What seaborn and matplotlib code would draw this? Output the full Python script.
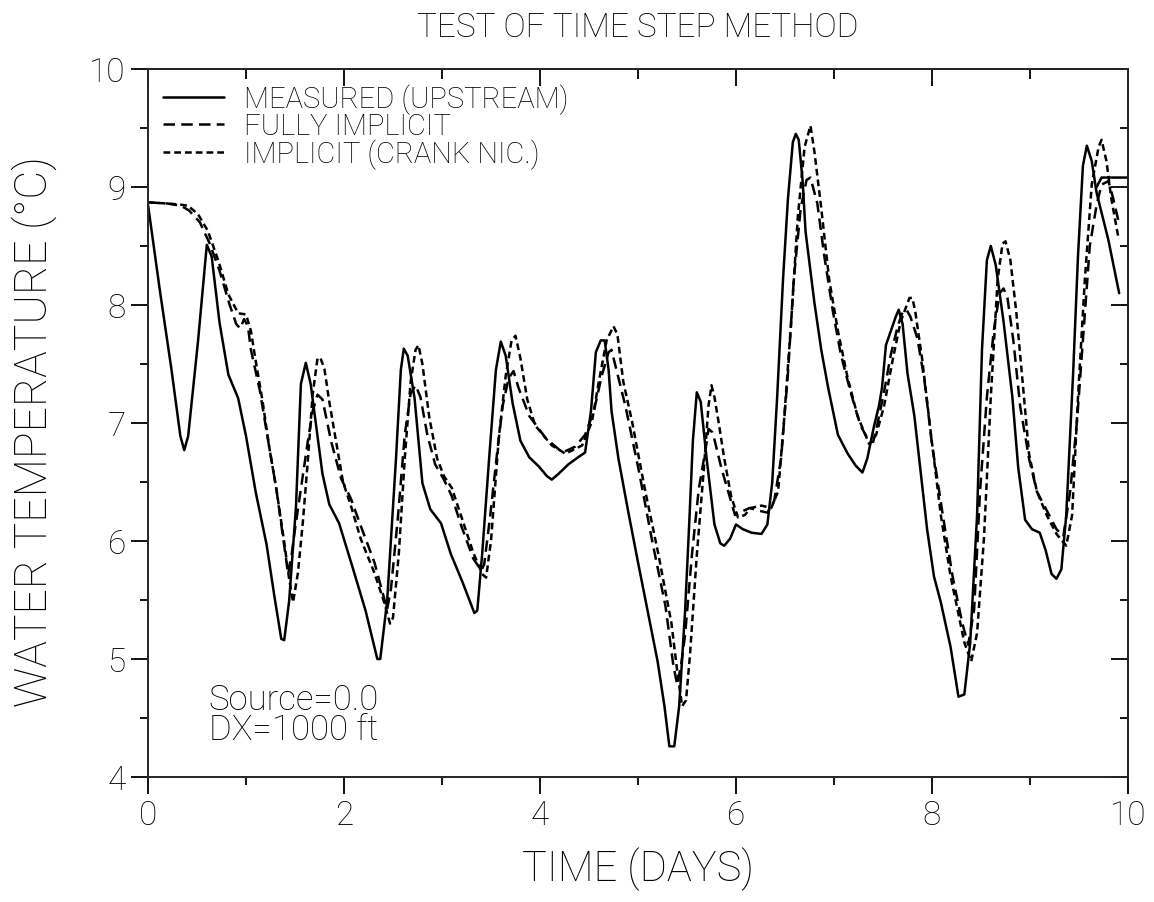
import matplotlib
matplotlib.use("Agg")
import matplotlib.pyplot as plt
import seaborn as sns
from matplotlib.ticker import MultipleLocator

# ---------------- data ----------------
meas_x = [0.00, 0.12, 0.24, 0.33, 0.37, 0.41, 0.51, 0.60, 0.65, 0.73, 0.82, 0.92,
          1.00, 1.10, 1.21, 1.29, 1.36, 1.39, 1.44, 1.51, 1.56, 1.61, 1.66, 1.73,
          1.78, 1.85, 1.95, 2.09, 2.22, 2.29, 2.34, 2.37, 2.44, 2.53, 2.58, 2.61,
          2.65, 2.72, 2.80, 2.88, 2.99, 3.09, 3.21, 3.33, 3.36, 3.41, 3.48, 3.55,
          3.60, 3.65, 3.72, 3.80, 3.89, 3.99, 4.07, 4.12, 4.19, 4.29, 4.39, 4.46,
          4.52, 4.57, 4.62, 4.66, 4.70, 4.73, 4.80, 4.90, 5.00, 5.10, 5.20, 5.27,
          5.32, 5.37, 5.42, 5.48, 5.52, 5.56, 5.60, 5.64, 5.70, 5.78, 5.84, 5.88,
          5.94, 6.00, 6.07, 6.16, 6.26, 6.32, 6.37, 6.42, 6.48, 6.53, 6.58, 6.61,
          6.64, 6.68, 6.71, 6.80, 6.87, 6.94, 7.04, 7.14, 7.22, 7.29, 7.34, 7.41,
          7.46, 7.49, 7.53, 7.58, 7.63, 7.66, 7.70, 7.75, 7.82, 7.88, 7.95, 8.02,
          8.09, 8.19, 8.27, 8.33, 8.39, 8.46, 8.51, 8.56, 8.60, 8.65, 8.73, 8.82,
          8.88, 8.95, 9.02, 9.10, 9.16, 9.22, 9.27, 9.32, 9.37, 9.44, 9.49, 9.54,
          9.58, 9.63, 9.68, 9.80, 9.91]
meas_y = [8.85, 8.13, 7.45, 6.89, 6.77, 6.89, 7.69, 8.51, 8.41, 7.85, 7.41, 7.21,
          6.89, 6.41, 5.97, 5.53, 5.17, 5.16, 5.49, 6.29, 7.33, 7.51, 7.33, 6.89,
          6.57, 6.31, 6.15, 5.77, 5.41, 5.17, 5.00, 5.00, 5.49, 6.69, 7.45, 7.63,
          7.57, 7.21, 6.49, 6.27, 6.15, 5.89, 5.65, 5.39, 5.41, 5.89, 6.69, 7.45,
          7.69, 7.57, 7.17, 6.85, 6.71, 6.63, 6.55, 6.52, 6.57, 6.65, 6.71, 6.75,
          7.10, 7.60, 7.70, 7.70, 7.45, 7.10, 6.70, 6.25, 5.82, 5.40, 4.98, 4.60,
          4.26, 4.26, 4.60, 5.40, 6.10, 6.85, 7.26, 7.18, 6.70, 6.14, 5.98, 5.96,
          6.02, 6.14, 6.10, 6.07, 6.06, 6.14, 6.50, 7.22, 8.22, 8.90, 9.38, 9.45,
          9.40, 9.05, 8.62, 8.02, 7.62, 7.30, 6.90, 6.74, 6.64, 6.58, 6.70, 6.98,
          7.15, 7.30, 7.66, 7.78, 7.90, 7.96, 7.84, 7.42, 7.06, 6.62, 6.10, 5.70,
          5.48, 5.10, 4.68, 4.70, 5.14, 6.22, 7.62, 8.38, 8.50, 8.34, 7.86, 7.22,
          6.62, 6.18, 6.10, 6.07, 5.92, 5.72, 5.68, 5.76, 6.22, 7.42, 8.42, 9.18,
          9.35, 9.22, 8.95, 8.55, 8.10]

meas_tail_x = [9.68, 9.73, 10.00]
meas_tail_y = [9.00, 9.08, 9.08]

fi_x = [0.00, 0.20, 0.34, 0.42, 0.53, 0.63, 0.73, 0.83, 0.90, 0.94, 0.98, 1.02,
        1.05, 1.14, 1.22, 1.31, 1.38, 1.43, 1.46, 1.50, 1.56, 1.63, 1.68, 1.73,
        1.78, 1.87, 1.97, 2.07, 2.17, 2.31, 2.41, 2.44, 2.48, 2.55, 2.62, 2.68,
        2.73, 2.78, 2.85, 2.93, 3.02, 3.10, 3.20, 3.32, 3.40, 3.43, 3.49, 3.56,
        3.62, 3.68, 3.73, 3.78, 3.89, 4.06, 4.23, 4.36, 4.46, 4.55, 4.63, 4.70,
        4.73, 4.78, 4.87, 5.01, 5.14, 5.28, 5.36, 5.40, 5.44, 5.48, 5.55, 5.62,
        5.69, 5.72, 5.76, 5.78, 5.85, 5.92, 5.99, 6.06, 6.14, 6.22, 6.32, 6.39,
        6.46, 6.53, 6.59, 6.66, 6.72, 6.76, 6.83, 6.90, 6.99, 7.07, 7.17, 7.27,
        7.36, 7.40, 7.44, 7.51, 7.58, 7.65, 7.70, 7.74, 7.78, 7.85, 7.92, 8.00,
        8.11, 8.21, 8.31, 8.37, 8.43, 8.49, 8.56, 8.63, 8.69, 8.73, 8.77, 8.83,
        8.90, 8.99, 9.07, 9.17, 9.27, 9.34, 9.41, 9.48, 9.55, 9.61, 9.68, 9.73,
        9.80, 9.85, 9.90]
fi_y = [8.87, 8.86, 8.84, 8.80, 8.70, 8.52, 8.29, 8.01, 7.84, 7.80, 7.88, 7.82,
        7.62, 7.28, 6.88, 6.44, 6.02, 5.72, 5.85, 6.10, 6.44, 6.84, 7.10, 7.24,
        7.20, 6.84, 6.53, 6.36, 6.13, 5.82, 5.51, 5.42, 5.60, 6.20, 6.90, 7.25,
        7.32, 7.22, 6.90, 6.65, 6.52, 6.38, 6.12, 5.85, 5.75, 5.80, 6.20, 6.73,
        7.15, 7.38, 7.44, 7.30, 7.06, 6.87, 6.75, 6.80, 6.90, 7.10, 7.40, 7.60,
        7.62, 7.45, 7.15, 6.59, 6.02, 5.45, 4.95, 4.78, 4.95, 5.20, 5.88, 6.44,
        6.78, 6.95, 6.92, 6.86, 6.62, 6.42, 6.22, 6.25, 6.28, 6.26, 6.24, 6.34,
        6.70, 7.42, 8.22, 8.82, 9.06, 9.08, 8.86, 8.42, 7.94, 7.58, 7.26, 6.98,
        6.84, 6.84, 6.98, 7.26, 7.58, 7.82, 7.94, 7.96, 7.90, 7.72, 7.38, 6.82,
        6.22, 5.70, 5.30, 5.12, 5.42, 6.42, 7.22, 7.78, 8.10, 8.14, 8.06, 7.70,
        7.14, 6.70, 6.42, 6.26, 6.10, 6.04, 6.42, 7.02, 7.82, 8.50, 8.85, 9.02,
        9.05, 8.90, 8.72]

cn_x = [0.00, 0.20, 0.34, 0.41, 0.51, 0.61, 0.72, 0.82, 0.92, 1.00, 1.05, 1.10,
        1.17, 1.24, 1.31, 1.39, 1.44, 1.48, 1.53, 1.58, 1.63, 1.68, 1.73, 1.76,
        1.80, 1.85, 1.92, 1.99, 2.07, 2.17, 2.31, 2.41, 2.47, 2.50, 2.56, 2.62,
        2.68, 2.73, 2.76, 2.80, 2.87, 2.95, 3.02, 3.10, 3.20, 3.32, 3.41, 3.45,
        3.50, 3.58, 3.65, 3.71, 3.75, 3.80, 3.87, 3.95, 4.12, 4.26, 4.43, 4.53,
        4.60, 4.68, 4.75, 4.79, 4.85, 4.94, 5.07, 5.21, 5.34, 5.40, 5.45, 5.49,
        5.53, 5.60, 5.67, 5.72, 5.75, 5.78, 5.82, 5.88, 5.95, 6.02, 6.09, 6.15,
        6.26, 6.36, 6.43, 6.49, 6.56, 6.63, 6.70, 6.76, 6.80, 6.87, 6.95, 7.04,
        7.14, 7.24, 7.36, 7.43, 7.51, 7.60, 7.68, 7.77, 7.80, 7.83, 7.90, 7.99,
        8.09, 8.19, 8.33, 8.40, 8.46, 8.53, 8.60, 8.67, 8.72, 8.75, 8.80, 8.86,
        8.93, 8.99, 9.07, 9.17, 9.27, 9.37, 9.43, 9.49, 9.56, 9.63, 9.70, 9.73,
        9.78, 9.83, 9.90]
cn_y = [8.87, 8.86, 8.85, 8.84, 8.77, 8.63, 8.37, 8.09, 7.93, 7.92, 7.78, 7.52,
        7.18, 6.78, 6.44, 5.99, 5.68, 5.48, 5.73, 6.16, 6.67, 7.24, 7.55, 7.55,
        7.46, 7.18, 6.84, 6.50, 6.30, 6.02, 5.73, 5.48, 5.30, 5.35, 5.90, 6.70,
        7.35, 7.62, 7.66, 7.50, 7.05, 6.70, 6.55, 6.45, 6.20, 5.90, 5.72, 5.69,
        6.00, 6.88, 7.40, 7.70, 7.74, 7.55, 7.20, 6.98, 6.81, 6.74, 6.81, 7.01,
        7.35, 7.70, 7.82, 7.75, 7.35, 7.01, 6.44, 5.88, 5.31, 4.90, 4.60, 4.65,
        5.03, 5.88, 6.59, 7.15, 7.32, 7.22, 7.02, 6.70, 6.38, 6.20, 6.22, 6.28,
        6.30, 6.28, 6.42, 7.02, 7.82, 8.74, 9.34, 9.52, 9.30, 8.82, 8.22, 7.78,
        7.38, 7.06, 6.82, 6.90, 7.14, 7.54, 7.86, 8.06, 8.06, 7.94, 7.54, 6.90,
        6.22, 5.70, 5.14, 4.98, 5.22, 6.02, 7.22, 8.22, 8.52, 8.54, 8.38, 7.94,
        7.30, 6.74, 6.42, 6.22, 6.06, 5.96, 6.22, 7.22, 8.22, 9.02, 9.34, 9.40,
        9.22, 8.90, 8.58]

labels = ["MEASURED (UPSTREAM)", "FULLY IMPLICIT", "IMPLICIT (CRANK NIC.)"]
title = "TEST OF TIME STEP METHOD"
xlabel = "TIME (DAYS)"
ylabel = "WATER TEMPERATURE (\u00b0C)"
note1 = "Source=0.0"
note2 = "DX=1000 ft"

# ---------------- style ----------------
sns.set_theme(style="ticks")
plt.rcParams['font.family'] = ['Roboto', 'DejaVu Sans']
plt.rcParams['font.weight'] = 'light'
plt.rcParams['axes.titleweight'] = 'light'
plt.rcParams['axes.labelweight'] = 'light'
plt.rcParams['axes.linewidth'] = 1.4
plt.rcParams['text.color'] = 'black'
plt.rcParams['axes.labelcolor'] = 'black'
plt.rcParams['xtick.color'] = 'black'
plt.rcParams['ytick.color'] = 'black'
plt.rcParams['xtick.labelcolor'] = 'black'
plt.rcParams['ytick.labelcolor'] = 'black'

W, H = 1154, 903
fig = plt.figure(figsize=(W / 100, H / 100), dpi=100)
ax = fig.add_axes([148 / W, 1 - 778 / H, 980 / W, 708 / H])

lw = 1.8
sns.lineplot(x=meas_x, y=meas_y, ax=ax, sort=False, color='black', lw=lw,
             label=labels[0])
sns.lineplot(x=meas_tail_x, y=meas_tail_y, ax=ax, sort=False, color='black', lw=lw)
sns.lineplot(x=fi_x, y=fi_y, ax=ax, sort=False, color='black', lw=lw,
             linestyle=(0, (4.6, 2.5)), label=labels[1])
sns.lineplot(x=cn_x, y=cn_y, ax=ax, sort=False, color='black', lw=lw,
             linestyle=(0, (2.7, 1.6)), label=labels[2])

ax.set_xlim(0, 10)
ax.set_ylim(4, 10)
ax.xaxis.set_major_locator(MultipleLocator(2))
ax.xaxis.set_minor_locator(MultipleLocator(1))
ax.yaxis.set_major_locator(MultipleLocator(1))
ax.yaxis.set_minor_locator(MultipleLocator(0.5))
ax.tick_params(which='major', direction='out', length=12, width=1.3,
               labelsize=24, pad=4)
ax.tick_params(which='minor', direction='out', length=6, width=1.3)

top = ax.secondary_xaxis('top')
top.xaxis.set_major_locator(MultipleLocator(2))
top.xaxis.set_minor_locator(MultipleLocator(1))
top.tick_params(which='major', direction='in', length=12, width=1.3, labeltop=False)
top.tick_params(which='minor', direction='in', length=7, width=1.3)
right = ax.secondary_yaxis('right')
right.yaxis.set_major_locator(MultipleLocator(1))
right.yaxis.set_minor_locator(MultipleLocator(0.5))
right.tick_params(which='major', direction='in', length=12, width=1.3, labelright=False)
right.tick_params(which='minor', direction='in', length=6, width=1.3)

ax.set_xlabel(xlabel, fontsize=30)
ax.xaxis.set_label_coords(0.5, -0.098)
ax.xaxis.label.set_verticalalignment('top')
ax.set_ylabel(ylabel, fontsize=32)
ax.yaxis.set_label_coords(-0.093, 0.489)
ax.set_title(title, fontsize=24, pad=24)

ax.text(0.62, 4.58, note1, fontsize=25, ha='left', va='baseline')
ax.text(0.62, 4.32, note2, fontsize=25, ha='left', va='baseline')

leg = ax.legend(loc='upper left', frameon=False, fontsize=21, handlelength=2.1,
                handletextpad=0.7, labelspacing=-0.06, borderaxespad=0.1,
                borderpad=0.4)

fig.savefig("out.png", dpi=100, facecolor='white')
